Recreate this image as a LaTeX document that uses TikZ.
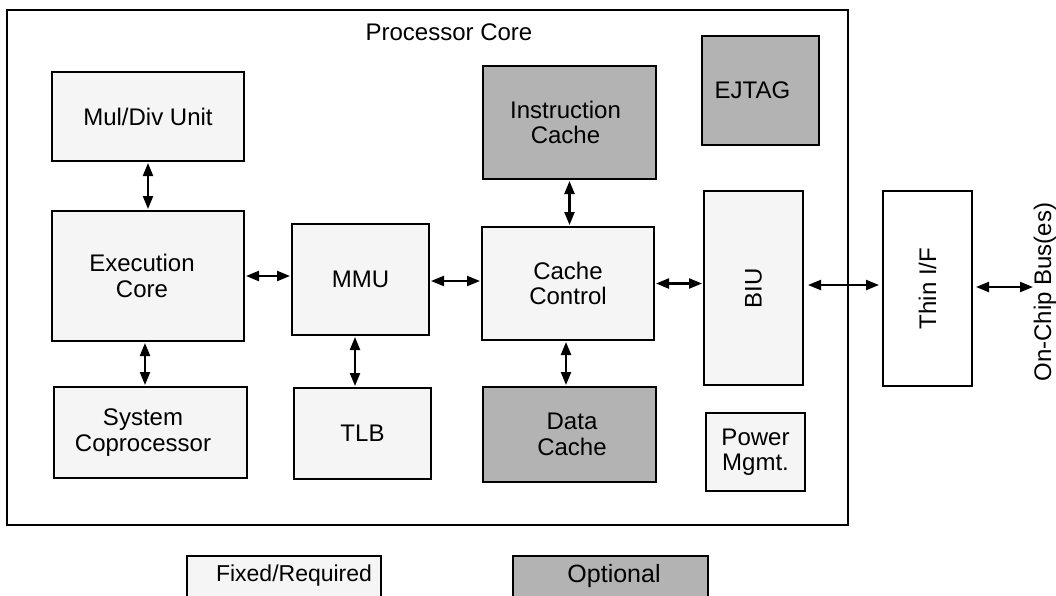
\documentclass[tikz,border=0pt]{standalone}
\usepackage{fontspec}
\setmainfont{Liberation Sans}
\usetikzlibrary{arrows.meta}
\definecolor{lightfill}{HTML}{F5F5F5}
\definecolor{darkfill}{HTML}{B3B3B3}
\tikzset{
  blk/.style={draw=black, line width=1.3pt, inner sep=0pt, outer sep=0pt, align=center,
    font=\fontsize{24}{25.5}\selectfont},
  fixedblk/.style={blk, fill=lightfill},
  optblk/.style={blk, fill=darkfill},
  conn/.style={line width=2.2pt, {Triangle[length=13pt,width=10pt]}-{Triangle[length=13pt,width=10pt]}, shorten <=2pt, shorten >=2pt},
  lbl/.style={font=\fontsize{24}{25.5}\selectfont, inner sep=0pt}
}
\begin{document}
\begin{tikzpicture}[x=1pt,y=-1pt]
\useasboundingbox (0,0) rectangle (1056,595);
\clip (0,0) rectangle (1056,595);
\fill[white] (0,0) rectangle (1056,595);
% outer processor core
\node[blk, fill=white, minimum width=841pt, minimum height=515pt] (core) at (427.5,267.5) {};
\node[lbl] (coretitle) at (449,32) {Processor Core};
% blocks
\node[fixedblk, minimum width=192pt, minimum height=89pt] (muldiv) at (148,116.5) {Mul/Div Unit};
\node[fixedblk, minimum width=192pt, minimum height=130pt] (exec) at (148,276) {\hspace*{-12pt}Execution\\\hspace*{-12pt}Core};
\node[fixedblk, minimum width=193pt, minimum height=91pt] (syscop) at (150.5,432.5) {\hspace*{-15pt}System\\\hspace*{-15pt}Coprocessor};
\node[fixedblk, minimum width=137pt, minimum height=111pt] (mmu) at (360.5,279.5) {MMU};
\node[fixedblk, minimum width=137pt, minimum height=91pt] (tlb) at (362.5,433.5) {TLB};
\node[optblk, minimum width=173pt, minimum height=113pt] (icache) at (569.5,122.5) {\hspace*{-8pt}Instruction\\\hspace*{-8pt}Cache};
\node[fixedblk, minimum width=172pt, minimum height=113pt] (cc) at (568,283.5) {Cache\\Control};
\node[optblk, minimum width=173pt, minimum height=95pt] (dcache) at (569.5,434.5) {\hspace*{5pt}Data\\\hspace*{5pt}Cache};
\node[optblk, minimum width=117pt, minimum height=109pt] (ejtag) at (760.5,90.5) {\hspace*{-16pt}EJTAG};
\node[fixedblk, minimum width=99pt, minimum height=194pt] (biu) at (753.5,288) {\rotatebox{90}{BIU}};
\node[fixedblk, minimum width=99pt, minimum height=78pt] (power) at (755.5,452) {Power\\Mgmt.};
\node[blk, fill=white, minimum width=89pt, minimum height=195pt] (thin) at (927.5,288.5) {\rotatebox{90}{Thin I/F}};
\node[lbl, rotate=90] (bus) at (1045,292) {On-Chip Bus(es)};
\coordinate (busend) at (1033,287);
% legend
\node[fixedblk, minimum width=194pt, minimum height=60pt] (legfixed) at (284,586) {};
\node[lbl, font=\fontsize{23}{25}\selectfont] (legfixedtxt) at (294,576) {Fixed/Required};
\node[optblk, minimum width=195pt, minimum height=60pt] (legopt) at (610.5,586) {};
\node[lbl, font=\fontsize{25}{27}\selectfont] (legopttxt) at (614,576) {Optional};
% connectors
\draw[conn] (muldiv.south) -- (exec.north);
\draw[conn] ([xshift=-3pt]exec.south) -- ([xshift=-3pt]exec.south |- syscop.north);
\draw[conn] (exec.east) -- (exec.east -| mmu.west);
\draw[conn] ([xshift=-5.5pt]mmu.south) -- ([xshift=-5.5pt]mmu.south |- tlb.north);
\draw[conn] ([yshift=-1.5pt]mmu.east) -- ([yshift=-1.5pt]mmu.east -| cc.west);
\draw[conn] (icache.south) -- (icache.south |- cc.north);
\draw[conn] ([xshift=-2pt]cc.south) -- ([xshift=-2pt]cc.south |- dcache.north);
\draw[conn] (cc.east) -- (cc.east -| biu.west);
\draw[conn, shorten <=5pt, shorten >=4pt] ([yshift=3pt]biu.east) -- ([yshift=3pt]biu.east -| thin.west);
\draw[conn, shorten <=4pt, shorten >=0pt] ([yshift=1.5pt]thin.east) -- (busend);
\end{tikzpicture}
\end{document}
